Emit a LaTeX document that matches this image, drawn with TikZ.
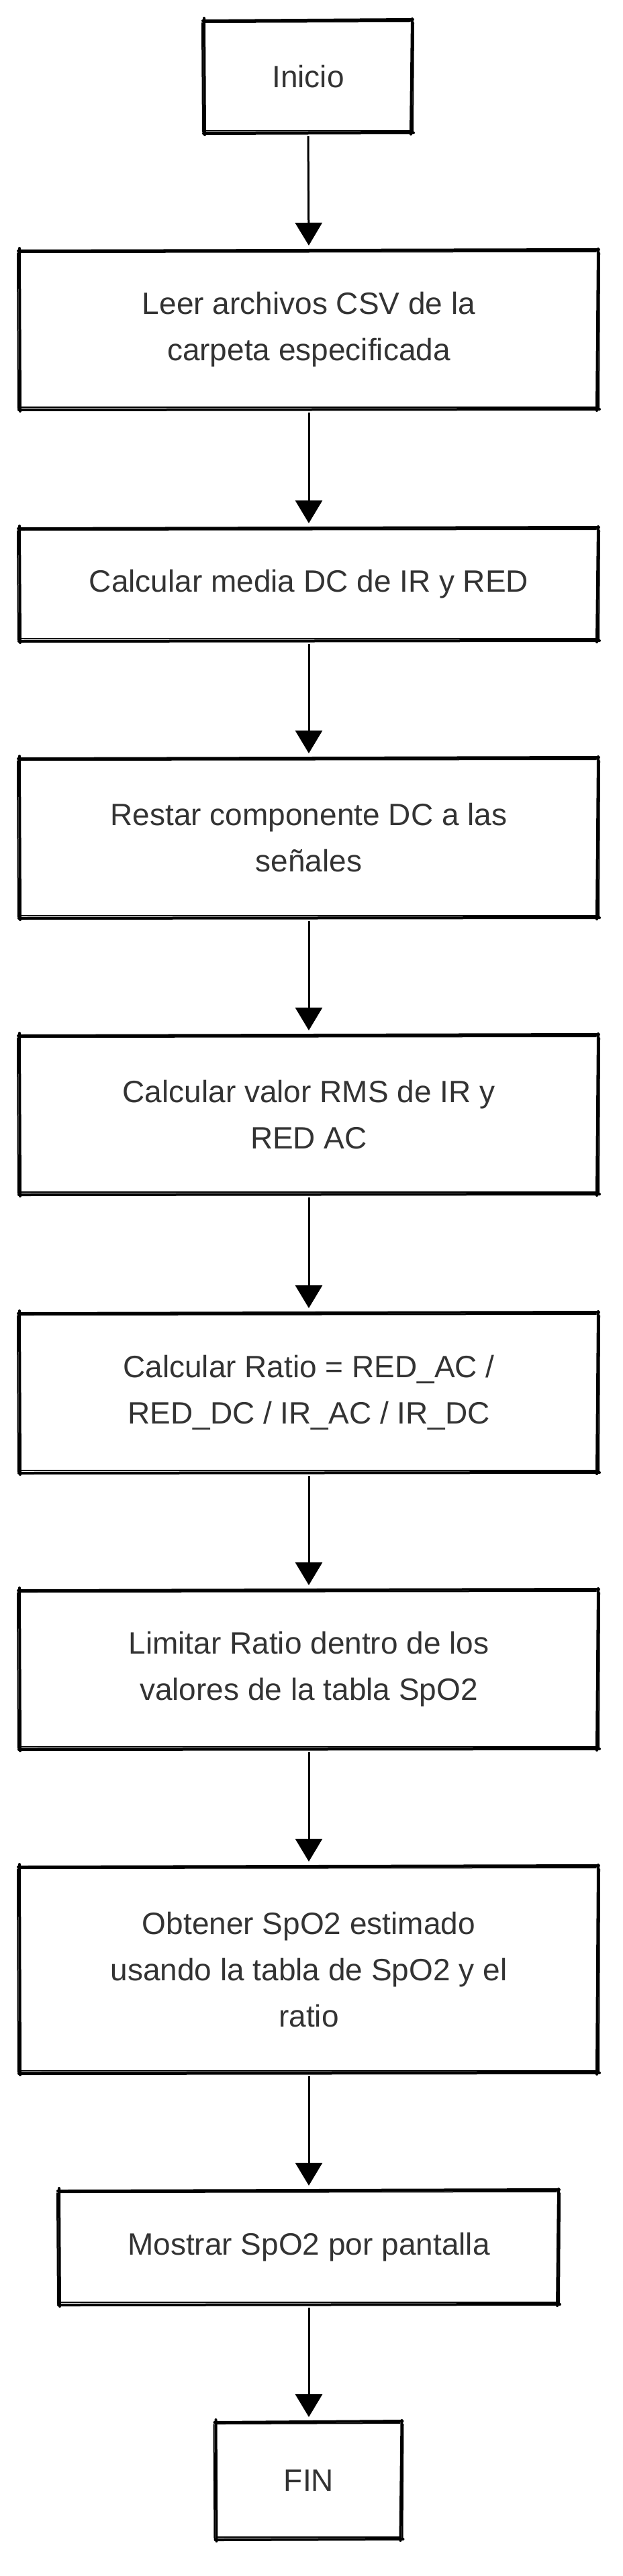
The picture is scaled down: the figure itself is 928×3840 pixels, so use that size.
\documentclass[tikz,border=0pt]{standalone}
\usepackage{fontspec}
\setmainfont{Liberation Sans}
\usetikzlibrary{arrows.meta}
\definecolor{txt}{HTML}{333333}
\tikzset{
  box/.style={draw=none, inner sep=0pt, outer sep=0pt, align=center, text=txt,
    font=\fontsize{46}{69}\selectfont},
  skA/.style={line width=4pt, line cap=round, line join=round, black},
  skB/.style={line width=2pt, line cap=round, line join=round, black},
  arr/.style={line width=3pt, -{Triangle[width=40pt,length=34pt]}, shorten <=5pt, shorten >=7pt}
}
\newcommand{\skbox}[1]{%
  \draw[skA] ([shift={(-3,1)}]#1.north west) -- ([shift={(2,-1)}]#1.north east);
  \draw[skA] ([shift={(1,-2)}]#1.north east) -- ([shift={(-1,2)}]#1.south east);
  \draw[skA] ([shift={(3,0)}]#1.south east) -- ([shift={(-2,1)}]#1.south west);
  \draw[skA] ([shift={(0,3)}]#1.south west) -- ([shift={(-1,-3)}]#1.north west);
  \draw[skB] ([shift={(1,3)}]#1.north west) -- ([shift={(-2,2)}]#1.north east);
  \draw[skB] ([shift={(3,4)}]#1.north east) -- ([shift={(2,-2)}]#1.south east);
  \draw[skB] ([shift={(-1,-3)}]#1.south east) -- ([shift={(1,-3)}]#1.south west);
  \draw[skB] ([shift={(-3,-1)}]#1.south west) -- ([shift={(-4,4)}]#1.north west);
}
\begin{document}
\begin{tikzpicture}[x=1pt,y=-1pt]
\useasboundingbox[fill=white] (0,0) rectangle (928,3840);

\node[box, minimum width=308pt, minimum height=168pt] (n1) at (459,114) {Inicio};
\node[box, minimum width=860pt, minimum height=237pt] (n2) at (460,491.5) {Leer archivos CSV de la\\carpeta especificada};
\node[box, minimum width=860pt, minimum height=168pt] (n3) at (460,871) {Calcular media DC de IR y RED};
\node[box, minimum width=860pt, minimum height=238pt] (n4) at (460,1249) {Restar componente DC a las\\señales};
\node[box, minimum width=860pt, minimum height=237pt] (n5) at (460,1661.5) {Calcular valor RMS de IR y\\RED AC};
\node[box, minimum width=860pt, minimum height=238pt] (n6) at (460,2076) {Calcular Ratio = RED\_AC /\\RED\_DC / IR\_AC / IR\_DC};
\node[box, minimum width=860pt, minimum height=237pt] (n7) at (460,2488.5) {Limitar Ratio dentro de los\\valores de la tabla SpO2};
\node[box, minimum width=860pt, minimum height=308pt] (n8) at (460,2936) {Obtener SpO2 estimado\\usando la tabla de SpO2 y el\\ratio};
\node[box, minimum width=742pt, minimum height=170pt] (n9) at (460,3350) {Mostrar SpO2 por pantalla};
\node[box, minimum width=275pt, minimum height=175pt] (n10) at (460,3697.5) {FIN};

\foreach \n in {n1,n2,n3,n4,n5,n6,n7,n8,n9,n10}{\skbox{\n}}

\draw[arr] (n1.south) -- (n2.north);
\draw[arr] (n2.south) -- (n3.north);
\draw[arr] (n3.south) -- (n4.north);
\draw[arr] (n4.south) -- (n5.north);
\draw[arr] (n5.south) -- (n6.north);
\draw[arr] (n6.south) -- (n7.north);
\draw[arr] (n7.south) -- (n8.north);
\draw[arr] (n8.south) -- (n9.north);
\draw[arr] (n9.south) -- (n10.north);
\end{tikzpicture}
\end{document}
